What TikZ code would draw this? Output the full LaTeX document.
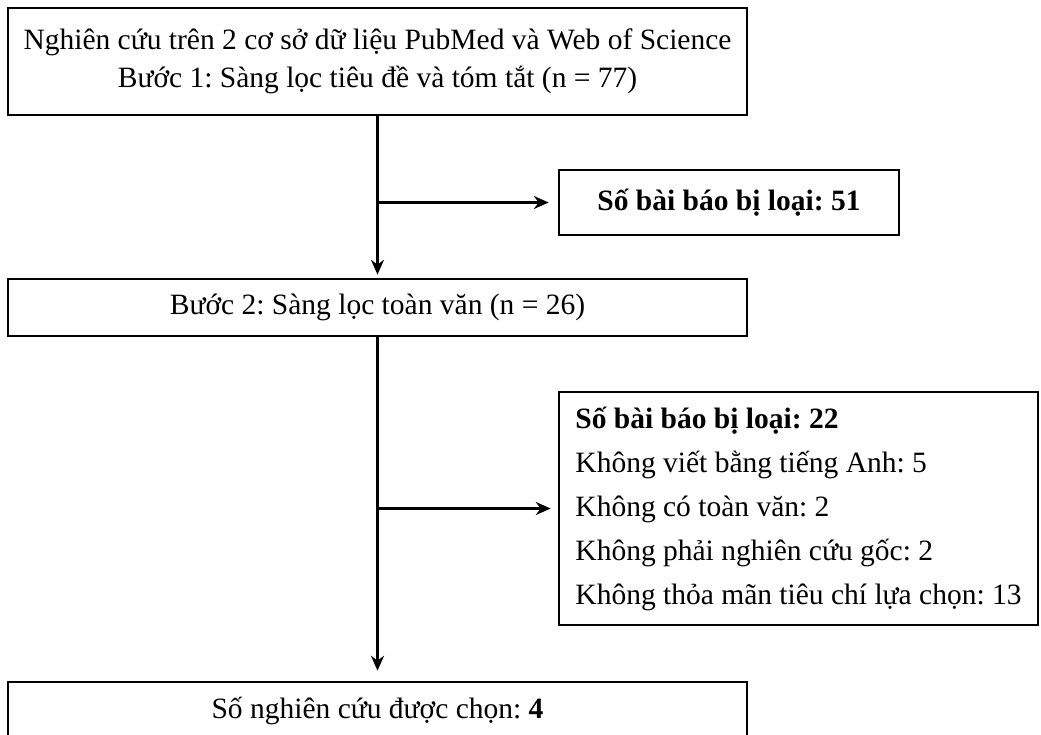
\documentclass[tikz,border=0pt]{standalone}
\usepackage{fontspec}
\setmainfont{Liberation Serif}
\usetikzlibrary{arrows.meta}
\begin{document}
\frenchspacing
\begin{tikzpicture}[x=1pt,y=-1pt,
  box/.style={draw, line width=2.5pt, inner sep=0pt, font=\fontsize{29.5}{38}\selectfont},
  arr/.style={line width=2.5pt, -{Stealth[length=15pt,width=13pt,inset=5pt]}},
]
\useasboundingbox (0,0) rectangle (1041,735);
\node[box, minimum width=739pt, minimum height=107pt, align=center] (s1) at (377.5,61.5)
  {Nghiên cứu trên 2 cơ sở dữ liệu PubMed và Web of Science\\Bước 1: Sàng lọc tiêu đề và tóm tắt (n = 77)};
\node[box, minimum width=340pt, minimum height=65pt, font=\fontsize{29.5}{38}\selectfont\bfseries] (ex1) at (729,202.5)
  {Số bài báo bị loại: 51};
\node[box, minimum width=739pt, minimum height=57pt] (s2) at (377.5,307.5)
  {Bước 2: Sàng lọc toàn văn (n = 26)};
\node[box, minimum width=479pt, minimum height=233pt, align=left,
  font=\fontsize{29.5}{44}\selectfont] (ex2) at (798.5,508.5)
  {\textbf{Số bài báo bị loại: 22}\\Không viết bằng tiếng Anh: 5\\Không có toàn văn: 2\\Không phải nghiên cứu gốc: 2\\Không thỏa mãn tiêu chí lựa chọn: 13};
\node[box, minimum width=739pt, minimum height=57pt] (fin) at (377.5,710.5)
  {Số nghiên cứu được chọn: \textbf{4}};
\draw[arr, shorten >=3pt] (s1) -- (s2);
\draw[arr, shorten >=9pt] (s1.south |- ex1.west) -- (ex1.west);
\draw[arr, shorten >=10pt] (s2) -- (fin);
\draw[arr, shorten >=7pt] (s2.south |- ex2.west) -- (ex2.west);
\end{tikzpicture}
\end{document}
